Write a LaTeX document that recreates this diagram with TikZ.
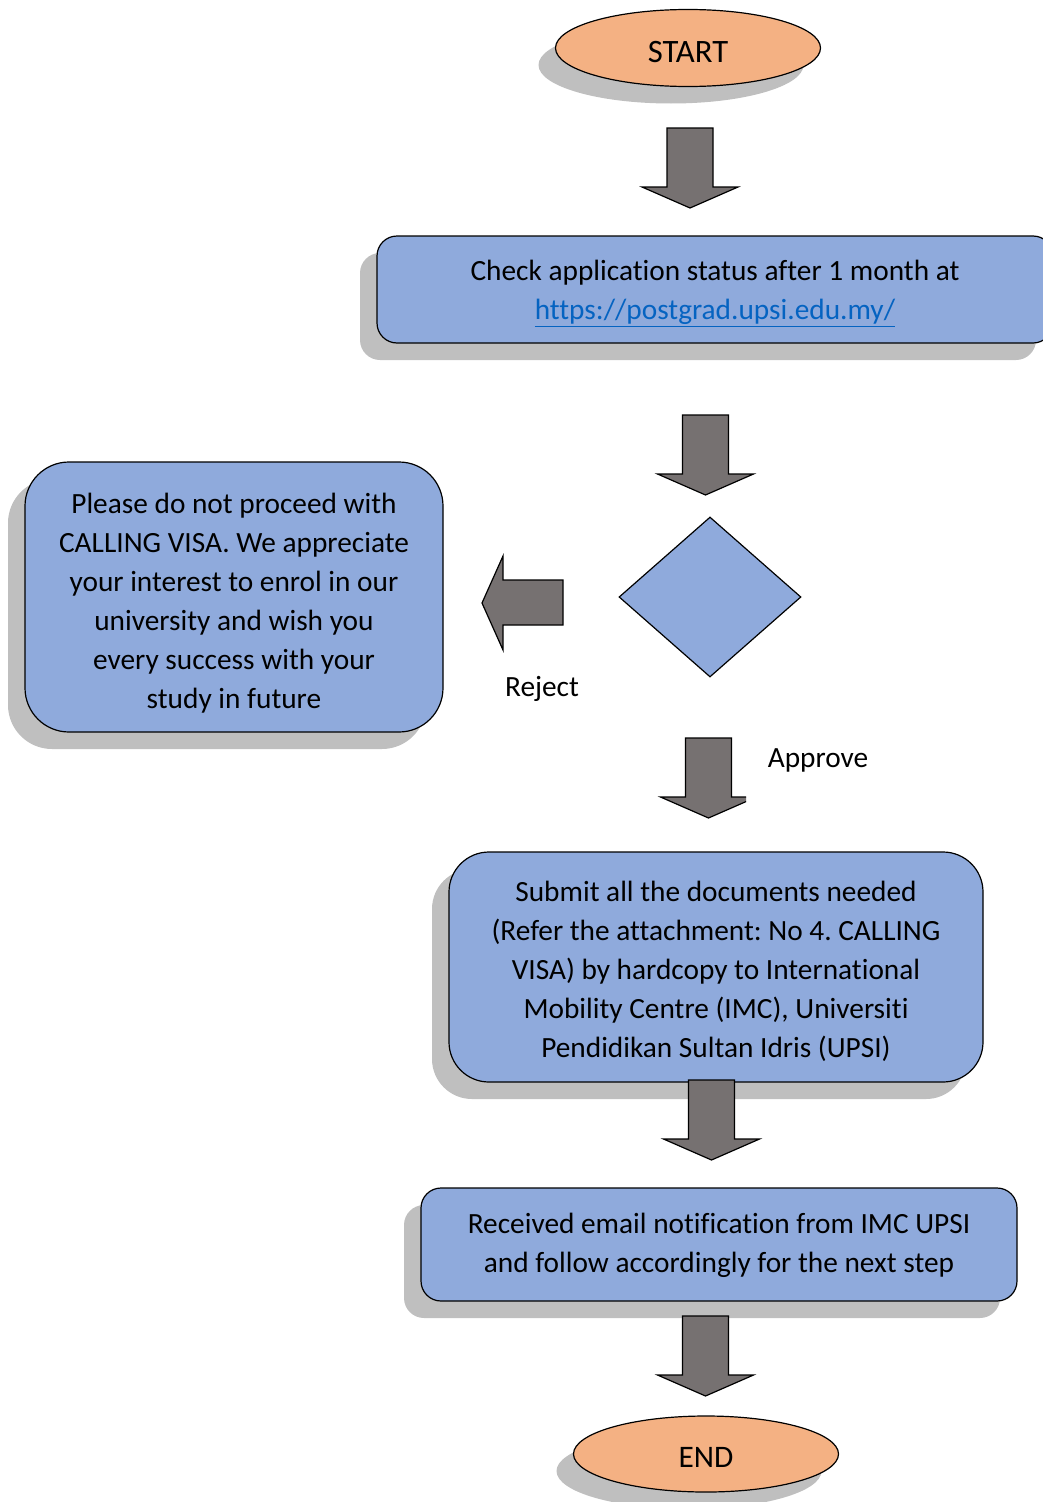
\documentclass[tikz,border=0pt]{standalone}
\usepackage{fontspec}
\setmainfont{Carlito}[Ligatures=NoCommon]
\usetikzlibrary{shapes.geometric,shadows}
\definecolor{orangefill}{HTML}{F4B183}
\definecolor{bluefill}{HTML}{8FAADC}
\definecolor{arrowgray}{HTML}{767171}
\definecolor{shadowgray}{HTML}{BFBFBF}
\definecolor{linkblue}{HTML}{0563C1}
\frenchspacing
\begin{document}
\begin{tikzpicture}[x=0.75pt,y=-0.75pt,
  every node/.style={font=\fontsize{22}{29.25}\selectfont},
  myshadow/.style={general shadow={fill=shadowgray,shadow xshift=-12.75pt,shadow yshift=-12.75pt}},
  terminal/.style={ellipse,draw,line width=0.9pt,fill=orangefill,inner sep=0pt,myshadow},
  procbox/.style={rectangle,draw,line width=0.9pt,fill=bluefill,inner sep=0pt,align=center,myshadow},
  decision/.style={diamond,draw,line width=0.9pt,fill=bluefill,inner sep=0pt},
  blockarrow/.style={draw,line width=0.9pt,fill=arrowgray,line join=miter},
  downarrow/.pic={\path[blockarrow] (-23,0) -- (23,0) -- (23,59) -- (48,59) -- (0,80) -- (-48,59) -- (-23,59) -- cycle;},
  lbl/.style={inner sep=0pt}
]
\useasboundingbox (0,0) rectangle (1042,1502);

\node[terminal,minimum width=198.75pt,minimum height=57.75pt,
  label={[yshift=-3pt,font=\fontsize{24.5}{29}\selectfont]center:START}] (start) at (688,48) {};

\pic at (690,128) {downarrow};

\node[procbox,rounded corners=15pt,minimum width=507pt,minimum height=80.25pt,
  label={[yshift=-3pt,align=center]center:{Check application status after 1 month at\\ \textcolor{linkblue}{\underline{https://postgrad.upsi.edu.my/}}}}] (check) at (715,289.5) {};

\pic at (705.5,415) {downarrow};

\node[decision,minimum width=136.5pt,minimum height=120pt] (dec) at (710,597) {};

\path[blockarrow] (563,580) -- (563,625) -- (503,625) -- (503,650) -- (482,603) -- (503,556) -- (503,580) -- cycle;
\node[lbl] (reject) at (542,689) {Reject};

\node[procbox,rounded corners=33pt,minimum width=313.5pt,minimum height=202.5pt,
  label={[yshift=-4.9pt,align=center]center:{Please do not proceed with\\ CALLING VISA. We appreciate\\ your interest to enrol in our\\ university and wish you\\ every success with your\\ study in future}}] (stop) at (234,597) {};

\begin{scope}
  \clip (0,700) rectangle (746,830);
  \pic at (708.5,738) {downarrow};
\end{scope}
\node[lbl] (approve) at (818,760) {Approve};

\node[procbox,rounded corners=30pt,minimum width=400.5pt,minimum height=172.5pt,
  label={[yshift=-3.4pt,align=center]center:{Submit all the documents needed\\ (Refer the attachment: No 4. CALLING\\ VISA) by hardcopy to International\\ Mobility Centre (IMC), Universiti\\ Pendidikan Sultan Idris (UPSI)}}] (submit) at (716,967) {};

\pic at (711.5,1080) {downarrow};

\node[procbox,rounded corners=15pt,minimum width=447pt,minimum height=84.75pt,
  label={[yshift=-0.75pt,align=center]center:{Received email notification from IMC UPSI\\ and follow accordingly for the next step}}] (email) at (719,1244.5) {};

\pic at (705.5,1316) {downarrow};

\node[terminal,minimum width=198.75pt,minimum height=57pt,
  label={[yshift=-2.25pt,font=\fontsize{23.5}{29}\selectfont]center:END}] (end) at (706,1454) {};
\end{tikzpicture}
\end{document}
